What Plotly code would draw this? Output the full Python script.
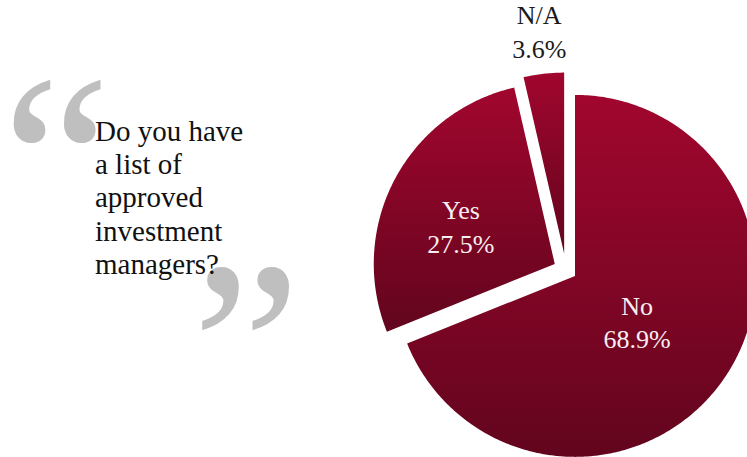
import numpy as np
import plotly.graph_objects as go

# Survey answers
answers = ["No", "Yes", "N/A"]
shares = [68.9, 27.5, 3.6]

question_lines = ["Do you have", "a list of", "approved", "investment", "managers?"]

# Slice styling: how far each slice is pulled out and where its label sits
# (distances as fractions of the pie radius, turns in degrees from the slice bisector)
explode = [0.06, 0.07, 0.09]
label_radius = [0.437, 0.553, 1.22]
label_turn = [4.3, -7.2, 0.0]
label_colors = ["#f8eef1", "#f8eef1", "#1a1a1a"]

W, H = 747, 457
SERIF = "Liberation Serif, Times New Roman, serif"
DARK, BRIGHT = "#62051d", "#a1062e"

# Pie geometry on data axes: radius = 1 unit, centre at (0, 0)
R_PX = 181.0
CX_PX, CY_PX = 566.0, 269.8
x_range = [-CX_PX / R_PX, (W - CX_PX) / R_PX]
y_range = [-(H - CY_PX) / R_PX, CY_PX / R_PX]


def px(x):
    return x / W


def py(y):
    return 1 - y / H


fig = go.Figure()

edges = np.concatenate([[0.0], np.cumsum(shares)]) / sum(shares) * 360.0
lx, ly = [], []
for i, name in enumerate(answers):
    a0, a1 = edges[i], edges[i + 1]
    mid = np.radians((a0 + a1) / 2)
    ox, oy = explode[i] * np.sin(mid), explode[i] * np.cos(mid)
    theta = np.radians(np.linspace(a0, a1, max(4, int((a1 - a0) * 2))))
    xs = np.concatenate([[ox], ox + np.sin(theta), [ox]])
    ys = np.concatenate([[oy], oy + np.cos(theta), [oy]])
    fig.add_trace(go.Scatter(
        x=xs, y=ys, mode="none", fill="toself",
        fillgradient=dict(type="vertical", colorscale=[[0, DARK], [1, BRIGHT]]),
        name=name, hoverinfo="skip", showlegend=False,
    ))
    la = mid + np.radians(label_turn[i])
    lx.append(ox + label_radius[i] * np.sin(la))
    ly.append(oy + label_radius[i] * np.cos(la))

fig.add_trace(go.Scatter(
    x=lx, y=ly, mode="text",
    text=[f"{n}<br>{v:.1f}%" for n, v in zip(answers, shares)],
    textposition="middle center",
    textfont=dict(family=SERIF, size=26, color=label_colors),
    hoverinfo="skip", showlegend=False,
))

# Decorative quotation marks framing the question
fig.add_annotation(text="\u201c", x=px(56), y=py(161), xref="paper", yref="paper",
                   xanchor="center", yanchor="middle", showarrow=False,
                   font=dict(family=SERIF, size=245, color="#bfbfbf"))
fig.add_annotation(text="\u201d", x=px(246), y=py(348), xref="paper", yref="paper",
                   xanchor="center", yanchor="middle", showarrow=False,
                   font=dict(family=SERIF, size=245, color="#bfbfbf"))

# Question text, one line per annotation for tight leading
for i, line in enumerate(question_lines):
    fig.add_annotation(text=line, x=px(93), y=py(131 + 33.2 * i), xref="paper", yref="paper",
                       xanchor="left", yanchor="middle", showarrow=False,
                       font=dict(family=SERIF, size=29, color="#111111"))

fig.update_layout(
    width=W, height=H,
    margin=dict(l=0, r=0, t=0, b=0),
    paper_bgcolor="white",
    plot_bgcolor="white",
    xaxis=dict(range=x_range, visible=False, fixedrange=True),
    yaxis=dict(range=y_range, visible=False, fixedrange=True),
)

fig.write_html("out.html")
